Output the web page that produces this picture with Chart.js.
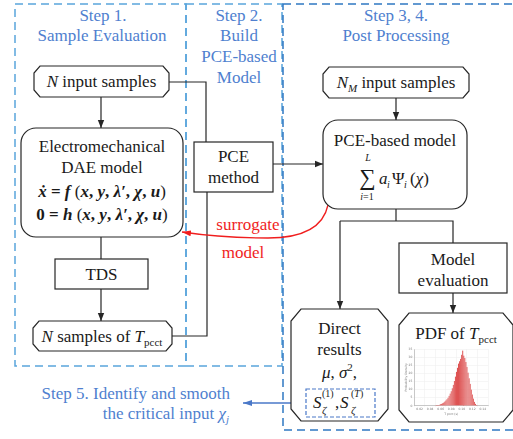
<!DOCTYPE html>
<html>
<head>
<meta charset="utf-8">
<script src="https://cdn.jsdelivr.net/npm/chart.js@4.4.0/dist/chart.umd.min.js"></script>
<style>
  html, body { margin: 0; padding: 0; background: #fff; }
  #wrap { position: relative; width: 513px; height: 439px; overflow: hidden; }
  #flow { position: absolute; left: 0; top: 0; }
  #flow text { font-size: 17px; fill: #1a1a1a; }
  #flow .step { fill: #4f7fcf; }
  #flow .red { fill: #f01e1e; }
  #flow .ln { stroke: #262626; stroke-width: 1.2; fill: none; }
  #flow .box { stroke: #262626; stroke-width: 1.2; fill: #fff; }
  #histBox { position: absolute; left: 404px; top: 345px; width: 88px; height: 71px; }
</style>
</head>
<body>
<div id="wrap">
<svg id="flow" width="513" height="439" viewBox="0 0 513 439" font-family="'Liberation Serif', 'Times New Roman', Times, serif">
  <defs>
    <marker id="arr" markerUnits="userSpaceOnUse" markerWidth="8" markerHeight="8" refX="8" refY="4" orient="auto">
      <path d="M0,0.8 L8,4 L0,7.2 z" fill="#262626"/>
    </marker>
    <marker id="arrR" markerUnits="userSpaceOnUse" markerWidth="9" markerHeight="8" refX="9" refY="4" orient="auto">
      <path d="M0,1 L9,4 L0,7 z" fill="#f01e1e"/>
    </marker>
    <marker id="arrB" markerUnits="userSpaceOnUse" markerWidth="9" markerHeight="8" refX="9" refY="4" orient="auto">
      <path d="M0,1 L9,4 L0,7 z" fill="#4a78c8"/>
    </marker>
  </defs>

  <!-- dashed step regions -->
  <rect x="15" y="4" width="171" height="362" fill="none" stroke="#5aa5dc" stroke-width="1.5" stroke-dasharray="8,5"/>
  <rect x="186" y="4" width="96" height="362" fill="none" stroke="#5aa5dc" stroke-width="1.5" stroke-dasharray="8,5"/>
  <rect x="283" y="4" width="240" height="426" fill="none" stroke="#2f78c2" stroke-width="1.5" stroke-dasharray="8,5"/>

  <text class="step" x="103" y="21" text-anchor="middle">Step 1.</text>
  <text class="step" x="102" y="41" text-anchor="middle">Sample Evaluation</text>
  <text class="step" x="239" y="21" text-anchor="middle">Step 2.</text>
  <text class="step" x="239" y="41" text-anchor="middle">Build</text>
  <text class="step" x="239" y="62" text-anchor="middle">PCE-based</text>
  <text class="step" x="239" y="83" text-anchor="middle">Model</text>
  <text class="step" x="396" y="21" text-anchor="middle">Step 3, 4.</text>
  <text class="step" x="396" y="41" text-anchor="middle">Post Processing</text>

  <!-- connectors -->
  <path class="ln" d="M169 82 H206 V142"/>
  <path class="ln" d="M101 97 V128" marker-end="url(#arr)"/>
  <path class="ln" d="M101 237 V259"/>
  <path class="ln" d="M101 289 V321" marker-end="url(#arr)"/>
  <path class="ln" d="M172 336 H207 V192"/>
  <path class="ln" d="M273 164 H323" marker-end="url(#arr)"/>
  <path class="ln" d="M396 98 V120" marker-end="url(#arr)"/>
  <path class="ln" d="M396 209 V221 M340 221 H453 V243"/>
  <path class="ln" d="M340 221 V309" marker-end="url(#arr)"/>
  <path class="ln" d="M453 293 V313" marker-end="url(#arr)"/>
  <path d="M328 205 Q321 238 268 238 Q222 238 182 232" fill="none" stroke="#f01e1e" stroke-width="1.3" marker-end="url(#arrR)"/>
  <path d="M306 403 H243" fill="none" stroke="#4a78c8" stroke-width="1.3" marker-end="url(#arrB)"/>

  <!-- left column -->
  <polygon class="box" points="40,66 163,66 169,73 169,90 163,97 40,97 34,90 34,73"/>
  <text x="101.5" y="87" text-anchor="middle"><tspan font-style="italic">N</tspan> input samples</text>

  <rect class="box" x="21" y="128" width="162" height="109" rx="15"/>
  <text x="102" y="152" text-anchor="middle">Electromechanical</text>
  <text x="102" y="173" text-anchor="middle">DAE model</text>
  <text x="102" y="197" text-anchor="middle" font-weight="bold"><tspan font-style="italic">ẋ</tspan> = <tspan font-style="italic">f</tspan><tspan font-weight="normal"> (</tspan><tspan font-style="italic">x</tspan>, <tspan font-style="italic">y</tspan>, <tspan font-style="italic">λ′</tspan>, <tspan font-style="italic">χ</tspan>, <tspan font-style="italic">u</tspan><tspan font-weight="normal">)</tspan></text>
  <text x="102" y="220" text-anchor="middle" font-weight="bold">0 = <tspan font-style="italic">h</tspan><tspan font-weight="normal"> (</tspan><tspan font-style="italic">x</tspan>, <tspan font-style="italic">y</tspan>, <tspan font-style="italic">λ′</tspan>, <tspan font-style="italic">χ</tspan>, <tspan font-style="italic">u</tspan><tspan font-weight="normal">)</tspan></text>

  <rect class="box" x="55" y="259" width="93" height="30"/>
  <text x="101.5" y="280" text-anchor="middle">TDS</text>

  <polygon class="box" points="39,321 166,321 172,328 172,344 166,351 39,351 33,344 33,328"/>
  <text x="102" y="342" text-anchor="middle"><tspan font-style="italic">N</tspan> samples of <tspan font-style="italic">T</tspan><tspan font-size="11" style="font-size:11px" dy="4">pcct</tspan></text>

  <!-- middle column -->
  <rect class="box" x="194" y="142" width="79" height="50"/>
  <text x="233.5" y="162" text-anchor="middle">PCE</text>
  <text x="233.5" y="183" text-anchor="middle">method</text>

  <text class="red" x="248" y="230" text-anchor="middle">surrogate</text>
  <text class="red" x="243" y="258" text-anchor="middle">model</text>

  <!-- right column -->
  <polygon class="box" points="329,67 463,67 469,74 469,91 463,98 329,98 323,91 323,74"/>
  <text x="396" y="88" text-anchor="middle"><tspan font-style="italic">N</tspan><tspan font-style="italic" style="font-size:11px" dy="4">M</tspan><tspan dy="-4"> input samples</tspan></text>

  <rect class="box" x="323" y="120" width="144" height="89" rx="15"/>
  <text x="395" y="146" text-anchor="middle">PCE-based model</text>
  <text x="367.5" y="185" text-anchor="middle" style="font-size:23px">∑</text>
  <text x="368" y="161" text-anchor="middle" font-style="italic" style="font-size:10px">L</text>
  <text x="367" y="200" text-anchor="middle" style="font-size:10px"><tspan font-style="italic">i</tspan>=1</text>
  <text x="379" y="184" font-style="italic">a</text>
  <text x="387" y="188" font-style="italic" style="font-size:10px">i</text>
  <text x="392" y="184">Ψ</text>
  <text x="404" y="188" font-style="italic" style="font-size:10px">i</text>
  <text x="410" y="184">(<tspan font-style="italic">χ</tspan>)</text>

  <rect class="box" x="399" y="243" width="108" height="50"/>
  <text x="453" y="265" text-anchor="middle">Model</text>
  <text x="453" y="286" text-anchor="middle">evaluation</text>

  <polygon class="box" points="301,309 378,309 388,321 388,409 378,421 301,421 291,409 291,321"/>
  <text x="339.5" y="334" text-anchor="middle">Direct</text>
  <text x="339.5" y="355" text-anchor="middle">results</text>
  <text x="339.5" y="378" text-anchor="middle"><tspan font-style="italic">μ</tspan>, <tspan font-style="italic">σ</tspan><tspan style="font-size:11px" dy="-7">2</tspan><tspan dy="7">,</tspan></text>
  <rect x="306" y="389" width="69" height="28" fill="#fff" stroke="#4a78c8" stroke-width="1.2" stroke-dasharray="4,2"/>
  <text x="313" y="408" font-style="italic">S</text>
  <text x="322" y="397" style="font-size:10px">(1)</text>
  <text x="322" y="414" font-style="italic" style="font-size:11px">ζ</text>
  <text x="335" y="408">,</text>
  <text x="340" y="408" font-style="italic">S</text>
  <text x="351" y="397" style="font-size:10px">(<tspan font-style="italic">T</tspan>)</text>
  <text x="351" y="414" font-style="italic" style="font-size:11px">ζ</text>

  <polygon class="box" points="409,313 503,313 513,325 513,410 503,422 409,422 399,410 399,325"/>
  <text x="456" y="339" text-anchor="middle">PDF of <tspan font-style="italic">T</tspan><tspan style="font-size:11px" dy="4">pcct</tspan></text>

  <!-- step 5 -->
  <text class="step" x="230" y="399" text-anchor="end">Step 5. Identify and smooth</text>
  <text class="step" x="229" y="419" text-anchor="end">the critical input <tspan font-style="italic">χ</tspan><tspan font-style="italic" style="font-size:11px" dy="4">j</tspan></text>
</svg>
<div id="histBox"><canvas id="hist" width="88" height="71"></canvas></div>
</div>

<script>
// histogram of the pcct samples (bin centre in s, probability density)
const binCenters = [0.050, 0.052, 0.054, 0.056, 0.058, 0.060, 0.062, 0.064, 0.066, 0.068,
  0.070, 0.072, 0.074, 0.076, 0.078, 0.080, 0.082, 0.084, 0.086, 0.088,
  0.090, 0.092, 0.094, 0.096, 0.098, 0.100, 0.102, 0.104, 0.106, 0.108,
  0.110, 0.112, 0.114, 0.116, 0.118, 0.120, 0.122, 0.124, 0.126, 0.128, 0.130];
const density = [0.2, 0.3, 0.4, 0.5, 0.7, 0.9, 1.2, 1.6, 2.0, 2.6,
  3.3, 4.0, 5.0, 6.2, 7.5, 9.0, 10.8, 12.9, 15.2, 18.0,
  21.0, 23.5, 26.0, 27.5, 29.0, 31.5, 34.0, 31.0, 29.5, 27.0,
  24.0, 20.5, 17.0, 13.5, 10.0, 7.0, 4.5, 2.5, 1.2, 0.5, 0.2];
const xTicks = [0.02, 0.04, 0.06, 0.08, 0.1, 0.12, 0.14];
const yTicks = [0, 5, 10, 15, 20, 25, 30, 35];

const tiny = {size: 3, family: 'DejaVu Sans'};

new Chart(document.getElementById('hist'), {
  type: 'bar',
  data: {
    datasets: [{
      data: binCenters.map((x, i) => ({x: x, y: density[i]})),
      backgroundColor: '#dd4f4f',
      borderColor: 'rgba(255,255,255,0.35)',
      borderWidth: 0.3,
      barPercentage: 1,
      categoryPercentage: 1
    }]
  },
  options: {
    responsive: false,
    animation: false,
    layout: {padding: {top: 4, right: 4, left: 0, bottom: 0}},
    plugins: {legend: {display: false}, tooltip: {enabled: false}},
    scales: {
      x: {
        type: 'linear',
        min: xTicks[0],
        max: xTicks[xTicks.length - 1],
        afterBuildTicks: axis => { axis.ticks = xTicks.map(v => ({value: v})); },
        ticks: {font: tiny, color: '#777', padding: 1, maxRotation: 0},
        grid: {color: '#ececec', lineWidth: 0.5, tickLength: 1},
        border: {color: '#999', width: 0.5},
        title: {display: true, text: 'T pcct (s)', font: tiny, color: '#777', padding: 0}
      },
      y: {
        min: yTicks[0],
        max: yTicks[yTicks.length - 1],
        afterBuildTicks: axis => { axis.ticks = yTicks.map(v => ({value: v})); },
        ticks: {font: tiny, color: '#777', padding: 1},
        grid: {color: '#ececec', lineWidth: 0.5, tickLength: 1},
        border: {color: '#999', width: 0.5},
        title: {display: true, text: 'Probability Density', font: tiny, color: '#777', padding: 0}
      }
    }
  }
});
</script>
</body>
</html>
